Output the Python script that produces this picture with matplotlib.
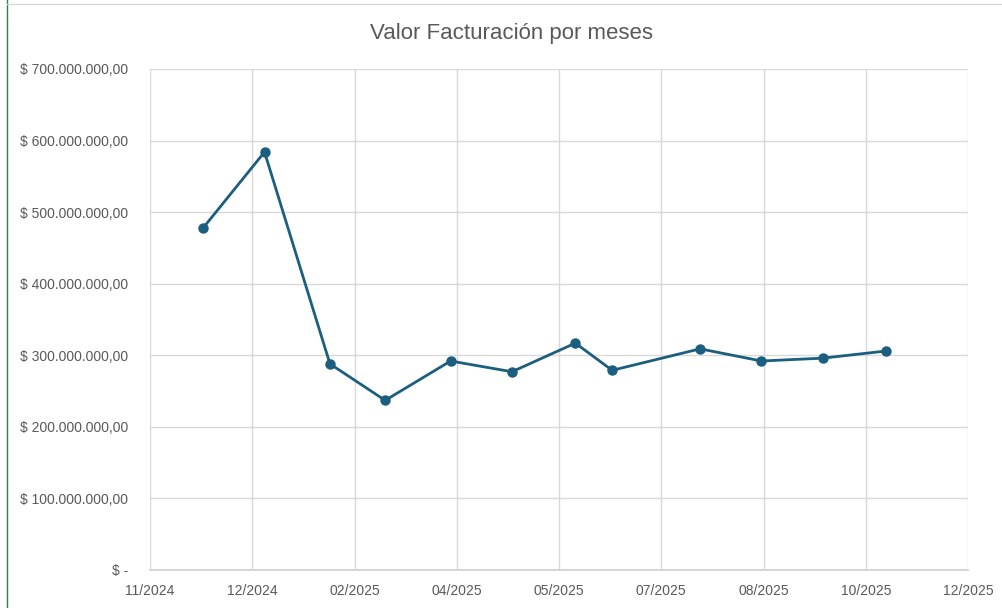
import datetime as dt
import matplotlib
matplotlib.use("Agg")
import matplotlib.pyplot as plt
import matplotlib.dates as mdates
from matplotlib.ticker import FuncFormatter
from matplotlib.lines import Line2D

# data
fechas = ["2024-11-28", "2024-12-28", "2025-01-29", "2025-02-25", "2025-03-29", "2025-04-28",
          "2025-05-29", "2025-06-16", "2025-07-29", "2025-08-28", "2025-09-27", "2025-10-28"]
valores = [478e6, 584e6, 288e6, 237e6, 292e6, 277e6, 317e6, 279e6, 309e6, 292e6, 296e6, 306e6]
titulo = "Valor Facturación por meses"
inicio_eje = "2024-11-02"
paso_dias = 50
n_ticks = 9

fechas = [dt.datetime.strptime(f, "%Y-%m-%d") for f in fechas]
inicio = dt.datetime.strptime(inicio_eje, "%Y-%m-%d")
ticks = [inicio + dt.timedelta(days=paso_dias * i) for i in range(n_ticks)]

gris = "#595959"
plt.rcParams["font.family"] = ["Liberation Sans", "DejaVu Sans"]

fig = plt.figure(figsize=(10.03, 6.08), dpi=100)
ax = fig.add_axes([150 / 1003, 1 - 570 / 608, (968 - 150) / 1003, (570 - 69) / 608])

ax.plot(fechas, valores, color="#1b5e7f", linewidth=2.0, marker="o", markersize=6.5, zorder=3)

def fmt_pesos(v, pos):
    if v == 0:
        return "$ -"
    s = f"{v:,.2f}".replace(",", "X").replace(".", ",").replace("X", ".")
    return "$ " + s

ax.set_ylim(0, 700e6)
ax.set_yticks([i * 100e6 for i in range(8)])
ax.yaxis.set_major_formatter(FuncFormatter(fmt_pesos))
ax.set_xlim(ticks[0], ticks[-1])
ax.set_xticks(ticks)
ax.xaxis.set_major_formatter(mdates.DateFormatter("%m/%Y"))

ax.grid(True, color="#d9d9d9", linewidth=1.0)
ax.set_axisbelow(True)
for lado in ["top", "right", "left"]:
    ax.spines[lado].set_visible(False)
ax.spines["bottom"].set_color("#d0d0d0")
ax.spines["bottom"].set_linewidth(1.2)
ax.tick_params(axis="both", length=0, colors=gris, labelsize=10)
ax.tick_params(axis="y", pad=16)
ax.tick_params(axis="x", pad=10)

fig.text(512 / 1003, 1 - 33 / 608, titulo, ha="center", va="center", fontsize=16, color=gris)

# borde verde de la celda y línea superior
fig.add_artist(Line2D([7 / 1003, 7 / 1003], [0, 1], color="#2e7d4f", linewidth=1.0))
fig.add_artist(Line2D([7 / 1003, 1], [1 - 4 / 608, 1 - 4 / 608], color="#d9d9d9", linewidth=1.0))

fig.savefig("out.png", dpi=100)
plt.close(fig)
